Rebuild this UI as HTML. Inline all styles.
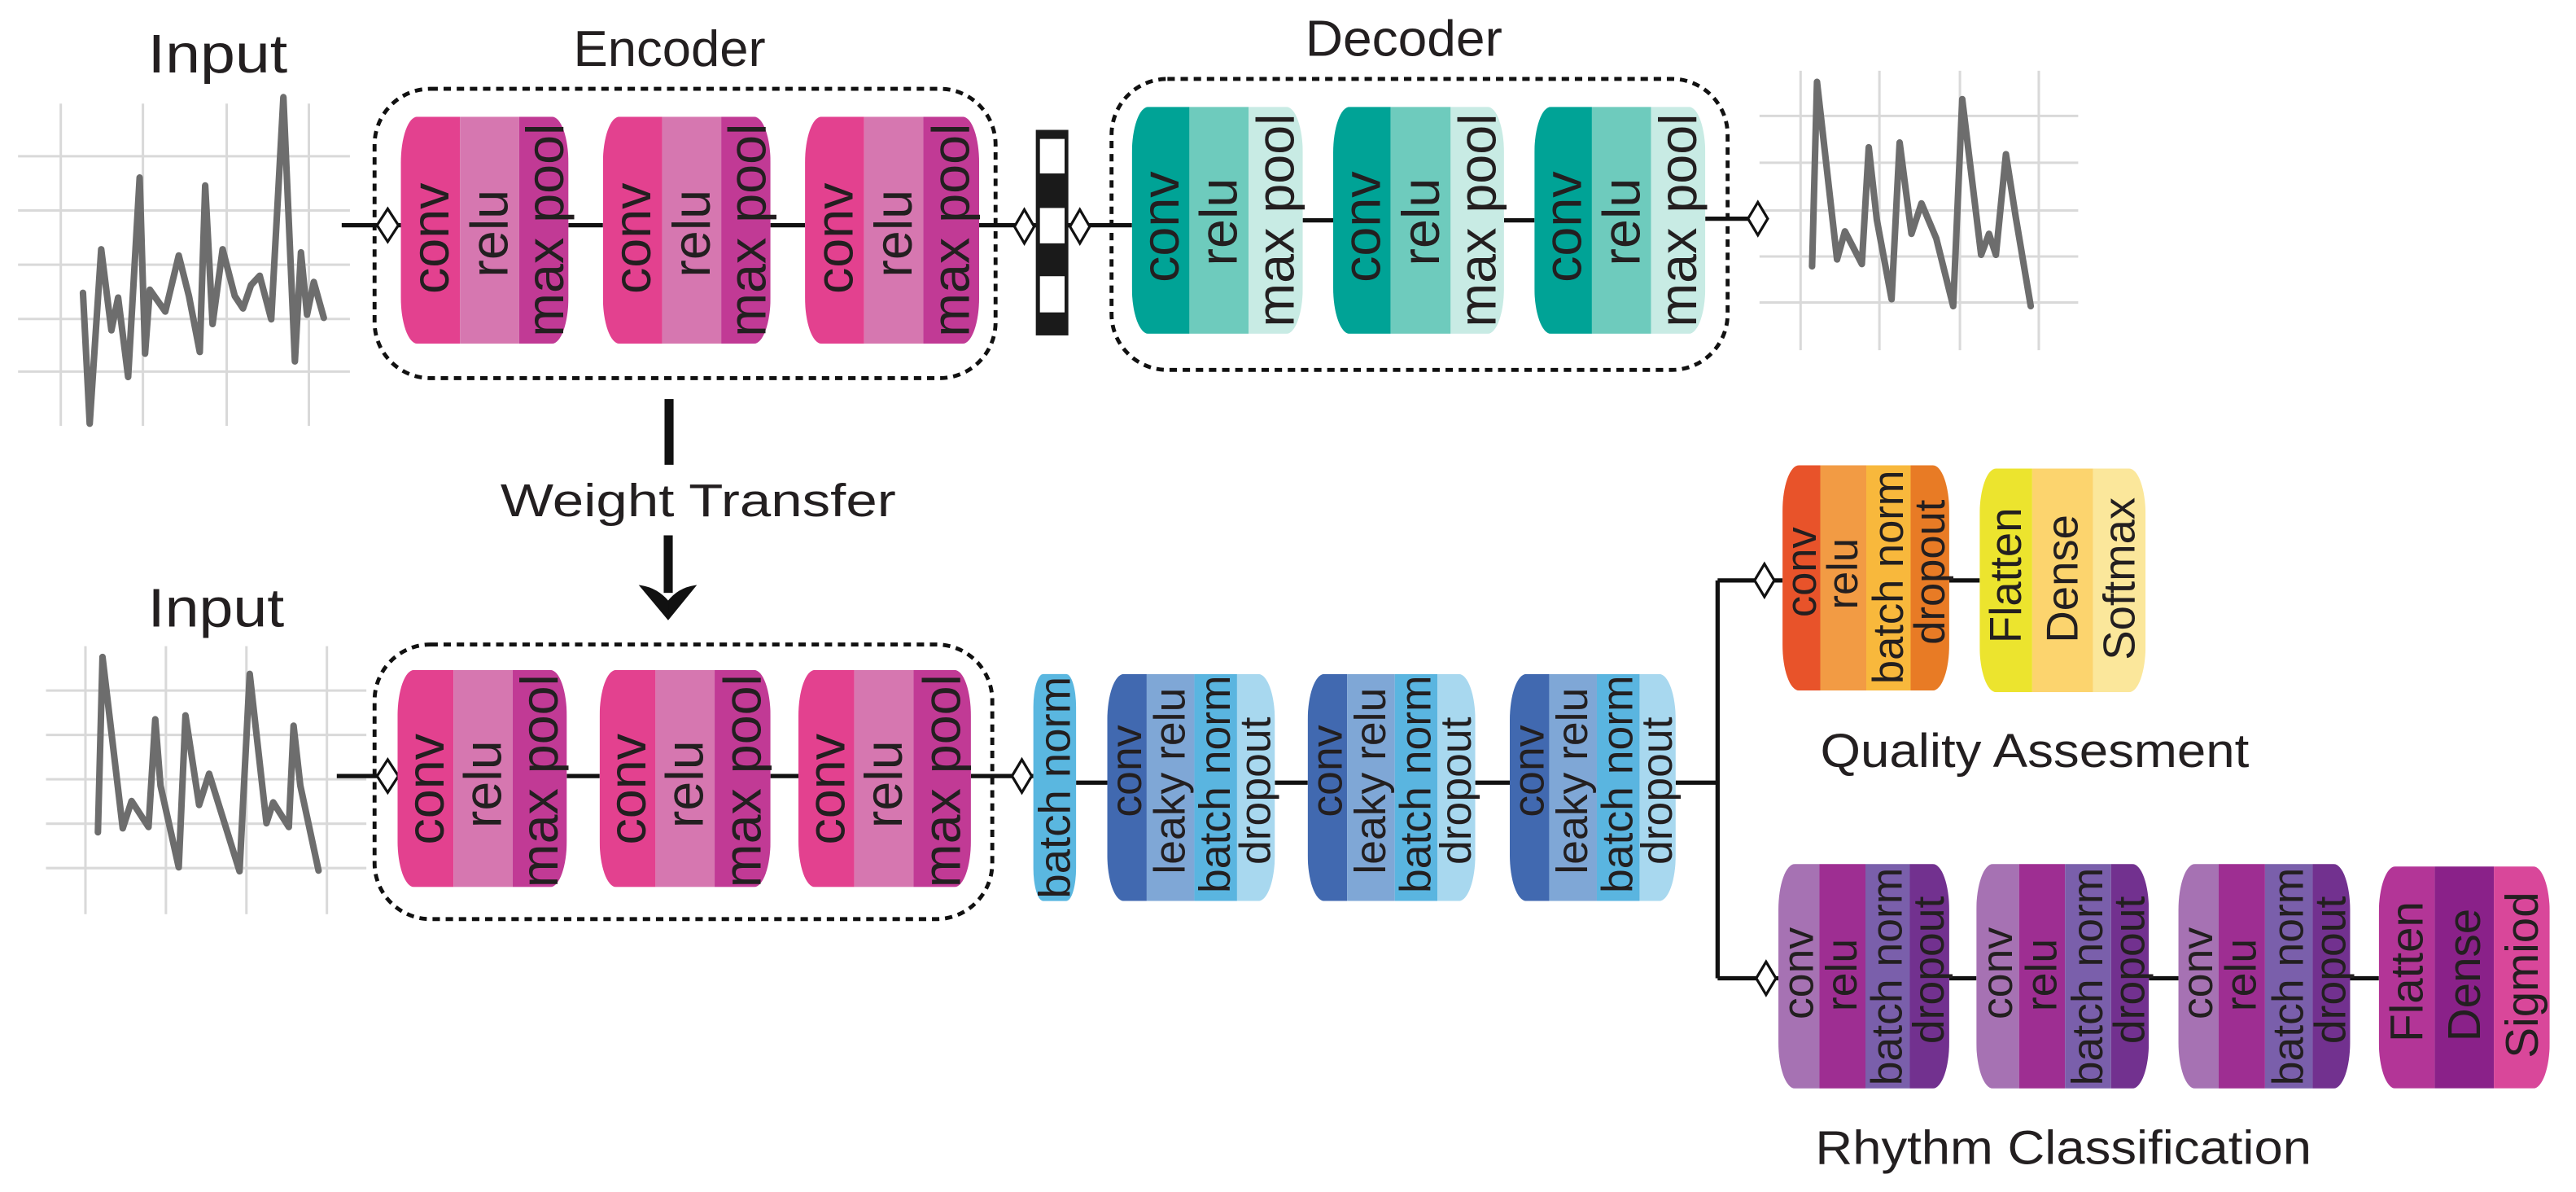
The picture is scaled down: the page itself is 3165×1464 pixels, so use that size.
<!DOCTYPE html>
<html><head><meta charset="utf-8"><style>
html,body{margin:0;padding:0;background:#fff;}
svg{display:block;}
text{font-family:"Liberation Sans",Arial,sans-serif;fill:#231f20;}
.bt{text-anchor:middle;dominant-baseline:central;}
</style></head><body>
<svg width="3165" height="1464" viewBox="0 0 1568 725" preserveAspectRatio="none" xmlns="http://www.w3.org/2000/svg">
<defs>
<clipPath id="cE1t"><rect x="244" y="71" width="102" height="138" rx="10" ry="28"/></clipPath>
<clipPath id="cE2t"><rect x="367" y="71" width="102" height="138" rx="10" ry="28"/></clipPath>
<clipPath id="cE3t"><rect x="490" y="71" width="106" height="138" rx="10" ry="28"/></clipPath>
<clipPath id="cD1"><rect x="689" y="65" width="104" height="138" rx="10" ry="28"/></clipPath>
<clipPath id="cD2"><rect x="811.5" y="65" width="104" height="138" rx="10" ry="28"/></clipPath>
<clipPath id="cD3"><rect x="934" y="65" width="104" height="138" rx="10" ry="28"/></clipPath>
<clipPath id="cE1b"><rect x="242" y="407.5" width="103" height="132" rx="10" ry="28"/></clipPath>
<clipPath id="cE2b"><rect x="365" y="407.5" width="104" height="132" rx="10" ry="28"/></clipPath>
<clipPath id="cE3b"><rect x="486" y="407.5" width="105" height="132" rx="10" ry="28"/></clipPath>
<clipPath id="cB1"><rect x="674" y="410" width="102" height="138" rx="10" ry="28"/></clipPath>
<clipPath id="cB2"><rect x="796" y="410" width="102" height="138" rx="10" ry="28"/></clipPath>
<clipPath id="cB3"><rect x="919" y="410" width="101" height="138" rx="10" ry="28"/></clipPath>
<clipPath id="cQ1"><rect x="1085" y="283" width="101.5" height="137" rx="10" ry="28"/></clipPath>
<clipPath id="cQ2"><rect x="1205" y="285" width="101" height="136" rx="10" ry="28"/></clipPath>
<clipPath id="cR1"><rect x="1082.5" y="525.5" width="104" height="136.5" rx="10" ry="28"/></clipPath>
<clipPath id="cR2"><rect x="1203" y="525.5" width="105" height="136.5" rx="10" ry="28"/></clipPath>
<clipPath id="cR3"><rect x="1326" y="525.5" width="104.5" height="136.5" rx="10" ry="28"/></clipPath>
<clipPath id="cR4"><rect x="1448" y="527" width="104" height="135" rx="10" ry="28"/></clipPath>
</defs>

<text x="90" y="44" font-size="33" textLength="85" lengthAdjust="spacingAndGlyphs">Input</text>
<text x="349" y="40" font-size="31" textLength="117" lengthAdjust="spacingAndGlyphs">Encoder</text>
<text x="794.5" y="34" font-size="31" textLength="120" lengthAdjust="spacingAndGlyphs">Decoder</text>
<text x="90" y="381" font-size="33" textLength="83" lengthAdjust="spacingAndGlyphs">Input</text>
<text x="304.6" y="314" font-size="28" textLength="240.7" lengthAdjust="spacingAndGlyphs">Weight Transfer</text>
<text x="1108" y="466.5" font-size="29" textLength="261" lengthAdjust="spacingAndGlyphs">Quality Assesment</text>
<text x="1105" y="708" font-size="29" textLength="302" lengthAdjust="spacingAndGlyphs">Rhythm Classification</text>

<g stroke="#d9d9d9" stroke-width="1.5" fill="none">
<path d="M11 95H213M11 128H213M11 161H213M11 194H213M11 226H213M37 63V259M87 63V259M138 63V259M188 63V259"/>
<path d="M28 420H223M28 447H223M28 474H223M28 501H223M28 528H223M52 393V556M101 393V556M150 393V556M199 393V556"/>
<path d="M1071 70.5H1265M1071 99H1265M1071 128H1265M1071 156H1265M1071 184H1265M1096 43V213M1144 43V213M1193 43V213M1241 43V213"/>
</g>
<g stroke="#6d6d6d" stroke-width="4" fill="none" stroke-linejoin="round" stroke-linecap="round">
<polyline points="50.5,178.1 54.6,257.7 61.6,151.6 67.8,200.9 71.9,181 78,229.3 85,108 88.3,215.1 91.2,176.2 100.6,189.5 108.8,155.4 115,180 121.6,214.1 124.9,112.8 129.4,197.1 135.5,151.6 142.9,180 147.9,187.6 152.8,173.4 158.1,167.7 165.1,194.2 172.5,59.1 179.5,219.8 183.2,153.5 186.9,191.4 191,171.5 197.1,193.3"/>
<polyline points="59.6,506.2 62.4,399.6 74.7,503.8 80.1,487.2 90.4,503 94.5,437.5 97.7,477.8 108.8,527.5 112.9,435.1 121.2,489.6 127.3,470.6 145.8,529.9 152,409.9 162.2,500.7 166.3,488 175.8,503 178.7,441.4 182.8,477.8 193.9,529.5"/>
<polyline points="1103,162 1106,49.8 1118.2,157.8 1123,140.7 1133.3,160.6 1137.5,89.6 1142.4,133.6 1151.4,182 1156.3,86.7 1163.5,142.2 1169.6,123.7 1178.6,145 1188.9,186.2 1194.4,60.3 1205.9,155 1210.7,142.2 1214.9,155 1221,93.8 1227,132.2 1236.1,186.2"/>
</g>

<g fill="none" stroke="#111" stroke-width="2.4" stroke-dasharray="4.5 3.5">
<rect x="228" y="54" width="378" height="176" rx="34" ry="34"/>
<rect x="676.6" y="48" width="375" height="177" rx="34" ry="34"/>
<rect x="228" y="392" width="376" height="167" rx="34" ry="34"/>
</g>

<g stroke="#111" stroke-width="2.6" fill="none">
<path d="M208 137H244M346 137H367M469 137H490M596 137H631M650 137H689M793 134H811.5M915.5 134H934M1038 133H1070"/>
<path d="M205 472H242M345 472H365M469 472H486M591 472H629M655 476H674M776 476H796M898 476H919M1020 476H1045.5"/>
<path d="M1045.5 353V595M1045.5 353H1085M1186.5 353H1205M1045.5 595H1082.5M1186.5 595H1203M1308 595H1326M1430 595H1448"/>
</g>
<g fill="#fff" stroke="#111" stroke-width="1.6">
<path d="M229.5 137L236 127L242.5 137L236 147Z"/>
<path d="M617.5 137.8L623.5 127.5L629.5 137.8L623.5 148Z"/>
<path d="M651.3 137.8L657.3 127.5L663.3 137.8L657.3 148Z"/>
<path d="M1064 133L1070 123L1076 133L1070 143Z"/>
<path d="M229.5 472L236 462L242.5 472L236 482Z"/>
<path d="M616 472L622 462L628 472L622 482Z"/>
<path d="M1068 353L1074 343L1080 353L1074 363Z"/>
<path d="M1069 595L1075 585L1081 595L1075 605Z"/>
</g>

<rect x="630.5" y="79" width="19.8" height="125" fill="#1a1a1a"/>
<g fill="#fff"><rect x="633" y="84.5" width="15" height="21"/><rect x="633" y="126.5" width="15" height="21.5"/><rect x="633" y="168" width="15" height="22"/></g>

<rect x="404.5" y="242.7" width="5.5" height="40" fill="#111"/>
<rect x="404" y="325.6" width="5.5" height="35" fill="#111"/>
<path d="M390 356.5Q400 358 406.7 366L406.7 376.5L406.7 366Q413 358 423 356.5L406.7 376.5Z" fill="#111" stroke="#111" stroke-width="1"/>

<g clip-path="url(#cE1t)"><rect x="244" y="71" width="36" height="138" fill="#e3418f"/><rect x="280" y="71" width="36" height="138" fill="#d677b0"/><rect x="316" y="71" width="30" height="138" fill="#c13a95"/></g>
<g clip-path="url(#cE2t)"><rect x="367" y="71" width="36" height="138" fill="#e3418f"/><rect x="403" y="71" width="36" height="138" fill="#d677b0"/><rect x="439" y="71" width="30" height="138" fill="#c13a95"/></g>
<g clip-path="url(#cE3t)"><rect x="490" y="71" width="36" height="138" fill="#e3418f"/><rect x="526" y="71" width="36" height="138" fill="#d677b0"/><rect x="562" y="71" width="34" height="138" fill="#c13a95"/></g>
<g font-size="32">
<text class="bt" transform="translate(262,145) rotate(-90)">conv</text>
<text class="bt" transform="translate(298,142) rotate(-90)">relu</text>
<text class="bt" transform="translate(332,140) rotate(-90)">max pool</text>
<text class="bt" transform="translate(385,145) rotate(-90)">conv</text>
<text class="bt" transform="translate(421,142) rotate(-90)">relu</text>
<text class="bt" transform="translate(455,140) rotate(-90)">max pool</text>
<text class="bt" transform="translate(508,145) rotate(-90)">conv</text>
<text class="bt" transform="translate(544,142) rotate(-90)">relu</text>
<text class="bt" transform="translate(579,140) rotate(-90)">max pool</text>
</g>

<g clip-path="url(#cD1)"><rect x="689" y="65" width="35" height="138" fill="#00a396"/><rect x="724" y="65" width="36" height="138" fill="#6ecbbd"/><rect x="760" y="65" width="33" height="138" fill="#c8ebe4"/></g>
<g clip-path="url(#cD2)"><rect x="811.5" y="65" width="35" height="138" fill="#00a396"/><rect x="846.5" y="65" width="36.5" height="138" fill="#6ecbbd"/><rect x="883" y="65" width="32.5" height="138" fill="#c8ebe4"/></g>
<g clip-path="url(#cD3)"><rect x="934" y="65" width="35" height="138" fill="#00a396"/><rect x="969" y="65" width="36" height="138" fill="#6ecbbd"/><rect x="1005" y="65" width="33" height="138" fill="#c8ebe4"/></g>
<g font-size="32">
<text class="bt" transform="translate(706.5,138) rotate(-90)">conv</text>
<text class="bt" transform="translate(742,135) rotate(-90)">relu</text>
<text class="bt" transform="translate(776.5,134) rotate(-90)">max pool</text>
<text class="bt" transform="translate(829,138) rotate(-90)">conv</text>
<text class="bt" transform="translate(865,135) rotate(-90)">relu</text>
<text class="bt" transform="translate(899.5,134) rotate(-90)">max pool</text>
<text class="bt" transform="translate(951.5,138) rotate(-90)">conv</text>
<text class="bt" transform="translate(987,135) rotate(-90)">relu</text>
<text class="bt" transform="translate(1021.5,134) rotate(-90)">max pool</text>
</g>

<g clip-path="url(#cE1b)"><rect x="242" y="407.5" width="34" height="132" fill="#e3418f"/><rect x="276" y="407.5" width="36" height="132" fill="#d677b0"/><rect x="312" y="407.5" width="33" height="132" fill="#c13a95"/></g>
<g clip-path="url(#cE2b)"><rect x="365" y="407.5" width="34" height="132" fill="#e3418f"/><rect x="399" y="407.5" width="36" height="132" fill="#d677b0"/><rect x="435" y="407.5" width="34" height="132" fill="#c13a95"/></g>
<g clip-path="url(#cE3b)"><rect x="486" y="407.5" width="34" height="132" fill="#e3418f"/><rect x="520" y="407.5" width="36" height="132" fill="#d677b0"/><rect x="556" y="407.5" width="35" height="132" fill="#c13a95"/></g>
<g font-size="32">
<text class="bt" transform="translate(259,480) rotate(-90)">conv</text>
<text class="bt" transform="translate(294,477) rotate(-90)">relu</text>
<text class="bt" transform="translate(328.5,475) rotate(-90)">max pool</text>
<text class="bt" transform="translate(382,480) rotate(-90)">conv</text>
<text class="bt" transform="translate(417,477) rotate(-90)">relu</text>
<text class="bt" transform="translate(452,475) rotate(-90)">max pool</text>
<text class="bt" transform="translate(503,480) rotate(-90)">conv</text>
<text class="bt" transform="translate(538,477) rotate(-90)">relu</text>
<text class="bt" transform="translate(573.5,475) rotate(-90)">max pool</text>
</g>

<rect x="629" y="410" width="26" height="138" rx="6" ry="20" fill="#5ab7e0"/>
<text class="bt" font-size="27" transform="translate(642,479) rotate(-90)">batch norm</text>

<g clip-path="url(#cB1)"><rect x="674" y="410" width="24" height="138" fill="#4169b0"/><rect x="698" y="410" width="29" height="138" fill="#7fa7d6"/><rect x="727" y="410" width="26" height="138" fill="#5ab5e0"/><rect x="753" y="410" width="23" height="138" fill="#a8d8ef"/></g>
<g clip-path="url(#cB2)"><rect x="796" y="410" width="24" height="138" fill="#4169b0"/><rect x="820" y="410" width="29" height="138" fill="#7fa7d6"/><rect x="849" y="410" width="26" height="138" fill="#5ab5e0"/><rect x="875" y="410" width="23" height="138" fill="#a8d8ef"/></g>
<g clip-path="url(#cB3)"><rect x="919" y="410" width="24" height="138" fill="#4169b0"/><rect x="943" y="410" width="29" height="138" fill="#7fa7d6"/><rect x="972" y="410" width="26" height="138" fill="#5ab5e0"/><rect x="998" y="410" width="22" height="138" fill="#a8d8ef"/></g>
<g font-size="26.5">
<text class="bt" transform="translate(686,469) rotate(-90)">conv</text>
<text class="bt" transform="translate(712.5,475) rotate(-90)">leaky relu</text>
<text class="bt" transform="translate(740,477) rotate(-90)">batch norm</text>
<text class="bt" transform="translate(764.5,481) rotate(-90)">dropout</text>
<text class="bt" transform="translate(808,469) rotate(-90)">conv</text>
<text class="bt" transform="translate(834.5,475) rotate(-90)">leaky relu</text>
<text class="bt" transform="translate(862,477) rotate(-90)">batch norm</text>
<text class="bt" transform="translate(886.5,481) rotate(-90)">dropout</text>
<text class="bt" transform="translate(931,469) rotate(-90)">conv</text>
<text class="bt" transform="translate(957.5,475) rotate(-90)">leaky relu</text>
<text class="bt" transform="translate(985,477) rotate(-90)">batch norm</text>
<text class="bt" transform="translate(1009,481) rotate(-90)">dropout</text>
</g>

<g clip-path="url(#cQ1)"><rect x="1085" y="283" width="23" height="137" fill="#e8532a"/><rect x="1108" y="283" width="28" height="137" fill="#f29b44"/><rect x="1136" y="283" width="27" height="137" fill="#f8b83c"/><rect x="1163" y="283" width="23.5" height="137" fill="#e87b25"/></g>
<g clip-path="url(#cQ2)"><rect x="1205" y="285" width="32" height="136" fill="#ece42e"/><rect x="1237" y="285" width="37" height="136" fill="#fcd46e"/><rect x="1274" y="285" width="32" height="136" fill="#fbe79b"/></g>
<g font-size="26">
<text class="bt" transform="translate(1096.5,348) rotate(-90)">conv</text>
<text class="bt" transform="translate(1122,349) rotate(-90)">relu</text>
<text class="bt" transform="translate(1149.5,351) rotate(-90)">batch norm</text>
<text class="bt" transform="translate(1175,348) rotate(-90)">dropout</text>
</g>
<g font-size="27">
<text class="bt" transform="translate(1221,350) rotate(-90)">Flatten</text>
<text class="bt" transform="translate(1255.5,352) rotate(-90)">Dense</text>
<text class="bt" transform="translate(1290,352) rotate(-90)">Softmax</text>
</g>

<g clip-path="url(#cR1)"><rect x="1082.5" y="525.5" width="25" height="137" fill="#a672b3"/><rect x="1107.5" y="525.5" width="28" height="137" fill="#9e2e92"/><rect x="1135.5" y="525.5" width="27" height="137" fill="#7a5fab"/><rect x="1162.5" y="525.5" width="24" height="137" fill="#72318f"/></g>
<g clip-path="url(#cR2)"><rect x="1203" y="525.5" width="26" height="137" fill="#a672b3"/><rect x="1229" y="525.5" width="28" height="137" fill="#9e2e92"/><rect x="1257" y="525.5" width="28" height="137" fill="#7a5fab"/><rect x="1285" y="525.5" width="23" height="137" fill="#72318f"/></g>
<g clip-path="url(#cR3)"><rect x="1326" y="525.5" width="24.5" height="137" fill="#a672b3"/><rect x="1350.5" y="525.5" width="28.2" height="137" fill="#9e2e92"/><rect x="1378.7" y="525.5" width="29" height="137" fill="#7a5fab"/><rect x="1407.7" y="525.5" width="23" height="137" fill="#72318f"/></g>
<g clip-path="url(#cR4)"><rect x="1448" y="527" width="34" height="135" fill="#b33597"/><rect x="1482" y="527" width="36" height="135" fill="#8a2189"/><rect x="1518" y="527" width="34" height="135" fill="#d9479a"/></g>
<g font-size="26.5">
<text class="bt" transform="translate(1095,592) rotate(-90)">conv</text>
<text class="bt" transform="translate(1121.5,593) rotate(-90)">relu</text>
<text class="bt" transform="translate(1149,594) rotate(-90)">batch norm</text>
<text class="bt" transform="translate(1174.5,590) rotate(-90)">dropout</text>
<text class="bt" transform="translate(1216,592) rotate(-90)">conv</text>
<text class="bt" transform="translate(1243,593) rotate(-90)">relu</text>
<text class="bt" transform="translate(1271,594) rotate(-90)">batch norm</text>
<text class="bt" transform="translate(1296.5,590) rotate(-90)">dropout</text>
<text class="bt" transform="translate(1338,592) rotate(-90)">conv</text>
<text class="bt" transform="translate(1364.5,593) rotate(-90)">relu</text>
<text class="bt" transform="translate(1393,594) rotate(-90)">batch norm</text>
<text class="bt" transform="translate(1419,590) rotate(-90)">dropout</text>
</g>
<g font-size="28">
<text class="bt" transform="translate(1465,591) rotate(-90)">Flatten</text>
<text class="bt" transform="translate(1500,593) rotate(-90)">Dense</text>
<text class="bt" transform="translate(1535,593) rotate(-90)">Sigmiod</text>
</g>
</svg>
</body></html>
